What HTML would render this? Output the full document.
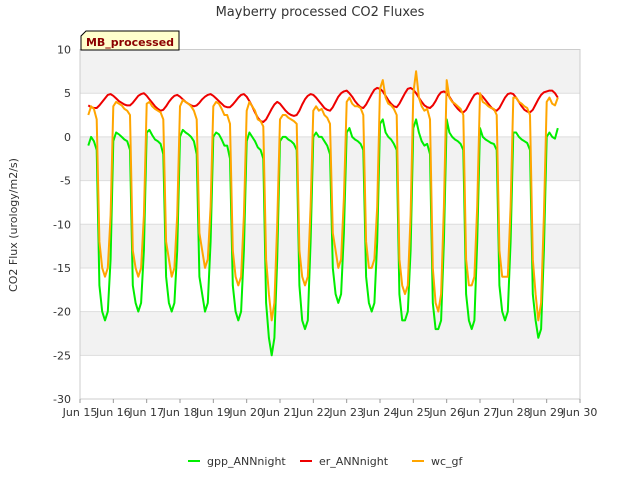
<!DOCTYPE html>
<html><head><meta charset="utf-8"><style>
body{margin:0;background:#fff;font-family:"DejaVu Sans","Liberation Sans",sans-serif;}
svg text{font-family:"DejaVu Sans","Liberation Sans",sans-serif;}
</style></head><body>
<svg id="chart" width="640" height="480" viewBox="0 0 640 480">
<text x="320" y="16" text-anchor="middle" font-size="13" fill="#333">Mayberry processed CO2 Fluxes</text>
<g id="plot"></g>
<text transform="translate(17,225) rotate(-90)" text-anchor="middle" font-size="11" fill="#333">CO2 Flux (urology/m2/s)</text>
<g>
<path d="M81,50 L81,36 L86,31 L179,31 L179,50 Z" fill="#ffffcc" stroke="#000" stroke-width="1"/>
<text x="130" y="46" text-anchor="middle" font-size="11" font-weight="bold" fill="#8b0000">MB_processed</text>
</g>
<g>
<g><line x1="188" y1="461" x2="200" y2="461" stroke="#00ee00" stroke-width="2"/><text x="207" y="465" font-size="11" fill="#333">gpp_ANNnight</text></g>
<g><line x1="300" y1="461" x2="312" y2="461" stroke="#ee0000" stroke-width="2"/><text x="319" y="465" font-size="11" fill="#333">er_ANNnight</text></g>
<g><line x1="412" y1="461" x2="424" y2="461" stroke="#ffa500" stroke-width="2"/><text x="431" y="465" font-size="11" fill="#333">wc_gf</text></g>
</g>
</svg>
<script>
const startDay = 15.25;
const samplesPerDay = 12;
const xTickLabels = ["Jun 15","Jun 16","Jun 17","Jun 18","Jun 19","Jun 20","Jun 21","Jun 22","Jun 23","Jun 24","Jun 25","Jun 26","Jun 27","Jun 28","Jun 29","Jun 30"];
const yTicks = [10,5,0,-5,-10,-15,-20,-25,-30];
const wc = [
2.5,3.5,3.2,2,-12,-15,-16,-15,-9,
3.5,4,3.8,3.6,3.2,3,2.5,-13,-15,-16,-15,-9,
3.8,4,3.5,3.2,3,2.8,2,-12,-14,-16,-15,-9,
3.5,4.2,4,3.8,3.5,3,2,-11,-13,-15,-14,-8,
3.5,4,3.8,3.2,2.5,2.5,1.5,-13,-16,-17,-16,-9,
3,4,3.5,3,2,1.8,1.2,-14,-18,-21,-19,-10,
2,2.5,2.5,2.2,2,1.8,1.5,-13,-16,-17,-16,-8,
3,3.5,3,3.2,2.5,2.2,1.5,-11,-13,-15,-14,-7,
4,4.5,3.8,3.5,3.5,3.3,2.5,-12,-15,-15,-14,-8,
5.5,6.5,4.5,3.8,3.6,3.2,2.5,-14,-17,-18,-17,-9,
5,7.5,4.5,3.5,3,3.2,2,-15,-19,-20,-18,-8,
6.5,4.5,4,3.8,3.5,3.2,2.5,-14,-17,-17,-16,-8,
5,4,3.8,3.5,3.3,3.2,2.5,-13,-16,-16,-16,-8,
4.5,4.5,4,3.8,3.5,3.3,2.5,-14,-18,-21,-19,-9,
4,4.5,3.8,3.6,4.5];
const gpp = [
-1,0,-0.5,-1.5,-17,-20,-21,-20,-14,
-0.5,0.5,0.3,0,-0.3,-0.5,-1.5,-17,-19,-20,-19,-13,
0.5,0.8,0.2,-0.3,-0.5,-0.8,-2,-16,-19,-20,-19,-13,
0,0.8,0.5,0.3,0,-0.5,-2,-16,-18,-20,-19,-12,
0,0.5,0.3,-0.3,-1,-1,-2.5,-17,-20,-21,-20,-13,
-0.5,0.5,0,-0.5,-1.2,-1.5,-2.5,-19,-23,-25,-23,-14,
-0.5,0,0,-0.3,-0.5,-0.8,-1.5,-17,-21,-22,-21,-12,
0,0.5,0,0,-0.5,-1,-2,-15,-18,-19,-18,-11,
0.5,1,0,-0.3,-0.5,-0.8,-1.5,-16,-19,-20,-19,-12,
1.5,2,0.5,0,-0.3,-0.8,-1.5,-18,-21,-21,-20,-13,
1,2,0.5,-0.5,-1,-0.8,-2,-19,-22,-22,-21,-12,
2,0.5,0,-0.3,-0.5,-0.8,-1.5,-18,-21,-22,-21,-12,
1,0,-0.3,-0.5,-0.7,-0.8,-1.5,-17,-20,-21,-20,-12,
0.5,0.5,0,-0.3,-0.5,-0.7,-1.5,-18,-21,-23,-22,-13,
0,0.5,0,-0.2,1];
const er = [
3.6,3.4,3.3,3.3,3.6,4,4.4,4.8,4.9,
4.7,4.4,4.1,3.9,3.7,3.6,3.6,3.9,4.3,4.7,4.9,5,
4.7,4.3,3.9,3.5,3.2,3,3.1,3.5,4,4.4,4.7,4.8,
4.6,4.3,4,3.8,3.6,3.5,3.6,3.9,4.3,4.6,4.8,4.9,
4.7,4.4,4.1,3.8,3.5,3.4,3.4,3.7,4.1,4.5,4.8,4.9,
4.6,4.1,3.5,2.8,2.2,1.8,1.7,2,2.6,3.2,3.7,4,
3.8,3.4,3,2.7,2.5,2.4,2.5,3,3.7,4.3,4.7,4.9,
4.8,4.5,4.1,3.7,3.3,3.1,3,3.4,4,4.6,5,5.2,
5.3,5,4.6,4.1,3.7,3.4,3.3,3.7,4.3,4.9,5.4,5.6,
5.5,5.2,4.7,4.2,3.8,3.5,3.4,3.8,4.4,5,5.5,5.6,
5.4,5,4.5,4,3.6,3.4,3.3,3.6,4.1,4.7,5.1,5.2,
5,4.6,4.1,3.6,3.2,2.9,2.8,3.1,3.7,4.3,4.8,5,
4.9,4.6,4.2,3.8,3.4,3.1,3,3.3,3.9,4.5,4.9,5,
4.9,4.5,4,3.5,3.1,2.9,2.8,3.1,3.7,4.3,4.8,5.1,
5.2,5.3,5.3,5,4.5];
const NS='http://www.w3.org/2000/svg';
const L=80,R=580,T=49.5,B=399;
function xScale(d){return L+(d-15)*(R-L)/15;}
function yScale(v){return T+(10-v)*(B-T)/40;}
const plot=document.getElementById('plot');
function mk(tag,attrs){const e=document.createElementNS(NS,tag);for(const k in attrs)e.setAttribute(k,attrs[k]);return e;}
for(let i=0;i<yTicks.length-1;i++){
  const r=mk('rect',{x:L,y:yScale(yTicks[i]),width:R-L,height:yScale(yTicks[i+1])-yScale(yTicks[i]),fill:i%2===0?'#f2f2f2':'#ffffff'});
  
  
  plot.appendChild(r);
}
yTicks.forEach(v=>{
  const g=mk('line',{x1:L,x2:R,y1:yScale(v),y2:yScale(v),stroke:'#dddddd','stroke-width':1});
  
  
  plot.appendChild(g);
  const t=mk('text',{x:L-9,y:yScale(v)+4,'text-anchor':'end','font-size':11,fill:'#333'});
  
  
  t.textContent=v;plot.appendChild(t);
});
const frame=mk('rect',{x:L,y:T,width:R-L,height:B-T,fill:'none',stroke:'#cccccc'});


plot.appendChild(frame);
xTickLabels.forEach((lab,i)=>{
  const x=xScale(15+i);
  const tk=mk('line',{x1:x,x2:x,y1:B,y2:B+4,stroke:'#999'});
  
  
  plot.appendChild(tk);
  const t=mk('text',{x:x,y:B+17,'text-anchor':'middle','font-size':11,fill:'#333'});
  
  
  t.textContent=lab;plot.appendChild(t);
});
function series(arr,color,name){
  const pts=arr.map((v,i)=>xScale(startDay+i/samplesPerDay).toFixed(1)+','+yScale(v).toFixed(1)).join(' ');
  const p=mk('polyline',{points:pts,fill:'none',stroke:color,'stroke-width':2,'stroke-linejoin':'round'});
  
  
  plot.appendChild(p);
}
series(gpp,'#00ee00','gpp-line');
series(er,'#ee0000','er-line');
series(wc,'#ffa500','wc-line');
</script>
</body></html>
